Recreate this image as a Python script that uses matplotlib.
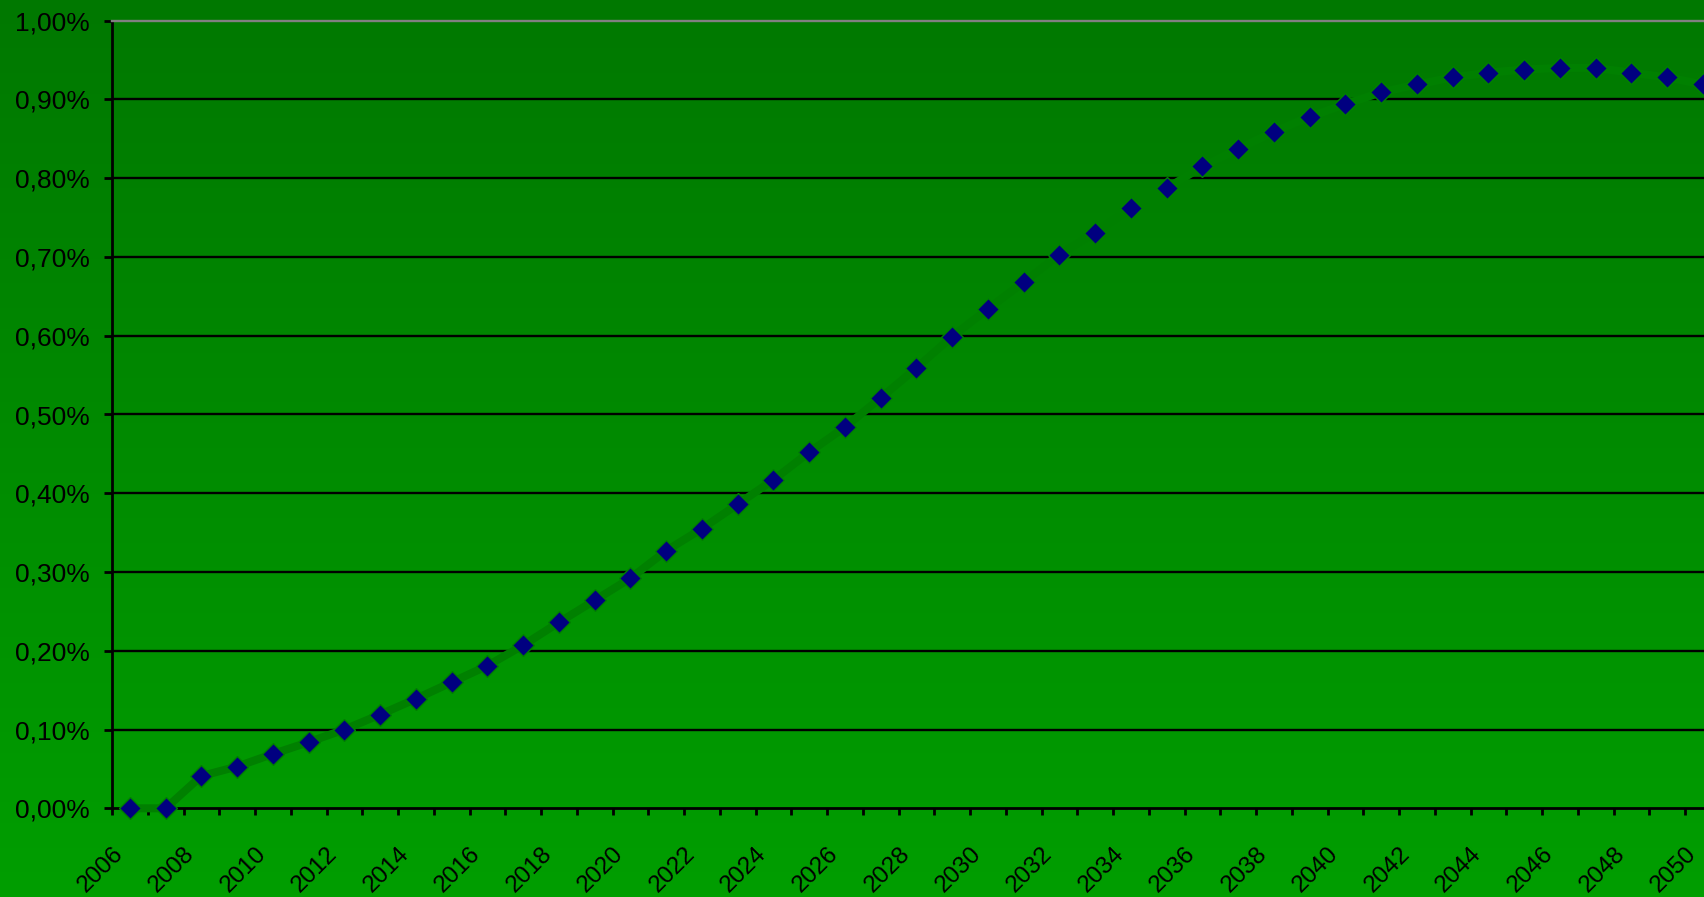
import numpy as np
import matplotlib
matplotlib.use("Agg")
import matplotlib.pyplot as plt
from matplotlib.colors import LinearSegmentedColormap
from matplotlib.ticker import FixedLocator

plt.rcParams['font.family'] = ['Liberation Sans', 'DejaVu Sans']

years = list(range(2006, 2051))
values = [0.000, 0.000, 0.041, 0.053, 0.069, 0.084, 0.100, 0.119, 0.139, 0.160,
          0.181, 0.207, 0.236, 0.264, 0.292, 0.327, 0.355, 0.386, 0.417, 0.452,
          0.484, 0.521, 0.559, 0.599, 0.634, 0.668, 0.703, 0.731, 0.762, 0.787,
          0.815, 0.837, 0.859, 0.878, 0.894, 0.909, 0.919, 0.928, 0.934, 0.938,
          0.940, 0.940, 0.934, 0.928, 0.919]
y_ticks = [0.0, 0.1, 0.2, 0.3, 0.4, 0.5, 0.6, 0.7, 0.8, 0.9, 1.0]

W, H = 1704, 897
fig = plt.figure(figsize=(W / 100, H / 100), dpi=100)

# chart area gradient background
bg = fig.add_axes([0, 0, 1, 1], zorder=-10)
cmap = LinearSegmentedColormap.from_list('g', ['#007800', '#009e00'])
bg.imshow(np.linspace(0, 1, 256).reshape(-1, 1), aspect='auto', cmap=cmap,
          extent=[0, 1, 0, 1])
bg.axis('off')

left = 112 / W
bottom = (H - 808.3) / H
width = (45 * 35.75) / W
height = 787.6 / H
ax = fig.add_axes([left, bottom, width, height])
ax.set_facecolor('none')

x = np.arange(len(years)) + 0.5
ax.plot(x, values, color='#008000', lw=5.8, marker='D', markersize=11,
        markerfacecolor='#000080', markeredgecolor='#008000', markeredgewidth=1.0,
        solid_joinstyle='round', clip_on=False, zorder=3)

ax.set_xlim(0, len(years))
ax.set_ylim(0, 1.0)

ax.yaxis.set_major_locator(FixedLocator(y_ticks))
ax.yaxis.set_major_formatter(plt.FuncFormatter(lambda v, p: f"{v:.2f}%".replace('.', ',')))
for yv in y_ticks[1:-1]:
    ax.axhline(yv, color='black', lw=1.7, zorder=1)

ax.set_xticks(np.arange(0, len(years) + 1))
ax.set_xticklabels([str(years[0] + k) if k % 2 == 0 and k < len(years) else ''
                    for k in range(len(years) + 1)])

ax.spines['right'].set_visible(False)
ax.spines['top'].set_color('#808080')
ax.spines['top'].set_linewidth(1.7)
ax.spines['left'].set_linewidth(2.0)
ax.spines['bottom'].set_linewidth(2.0)

ax.tick_params(axis='y', direction='out', length=6, width=2, pad=10,
               labelsize=19, colors='black')
ax.tick_params(axis='x', direction='out', length=5, width=2, pad=19.5,
               labelsize=17.5, colors='black')
plt.setp(ax.get_xticklabels(), rotation=45, ha='right', va='top',
         rotation_mode='anchor')

fig.savefig('out.png', dpi=100)
